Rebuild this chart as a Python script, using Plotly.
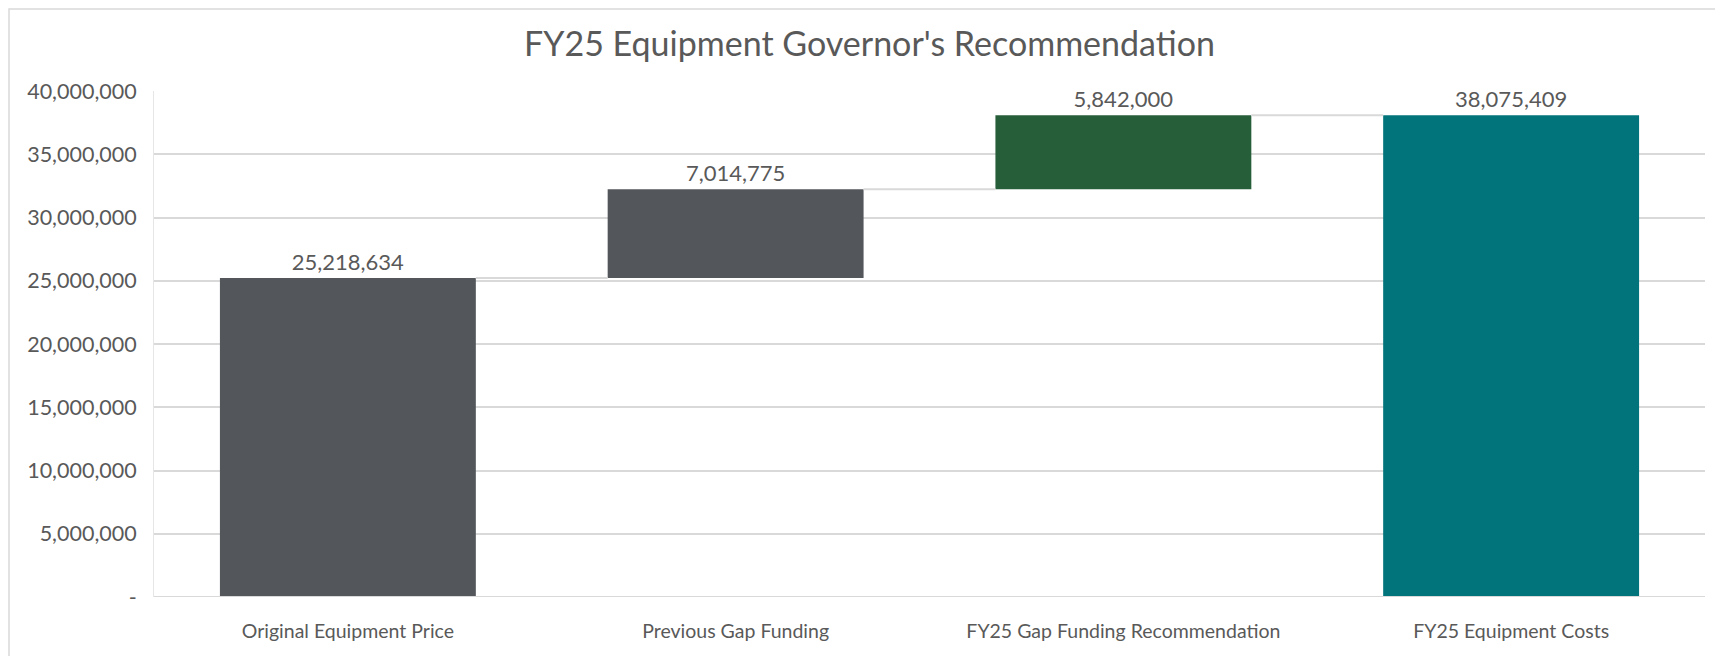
import plotly.graph_objects as go

categories = ["Original Equipment Price", "Previous Gap Funding",
              "FY25 Gap Funding Recommendation", "FY25 Equipment Costs"]
values = [25218634, 7014775, 5842000, 38075409]
measures = ["absolute", "relative", "relative", "total"]
colors = ["#53565A", "#53565A", "#275E3A", "#00747A"]
y_ticks = [0, 5000000, 10000000, 15000000, 20000000, 25000000, 30000000, 35000000, 40000000]
y_ticklabels = ["-", "5,000,000", "10,000,000", "15,000,000", "20,000,000",
                "25,000,000", "30,000,000", "35,000,000", "40,000,000"]

W, H = 1723, 656
ML, MR, MT, MB = 146, 26, 83, 67
FONT = "Lato"
TXT = "#595959"

bases, heights, running = [], [], 0
for v, m in zip(values, measures):
    if m == "absolute":
        bases.append(0); heights.append(v); running = v
    elif m == "relative":
        bases.append(running); heights.append(v); running += v
    else:
        bases.append(0); heights.append(v); running = v

xs = list(range(len(categories)))
bw = 0.66

fig = go.Figure()
# connectors
for i in range(len(xs) - 1):
    level = bases[i] + heights[i]
    fig.add_trace(go.Scatter(x=[xs[i] + bw / 2, xs[i + 1] - bw / 2], y=[level, level],
                             mode="lines", line=dict(color="#D9D9D9", width=2),
                             hoverinfo="skip", showlegend=False))
fig.add_trace(go.Bar(x=xs, y=heights, base=bases, width=bw,
                     marker=dict(color=colors, line=dict(width=0)),
                     text=[f"{v:,}" for v in values], textposition="outside",
                     textfont=dict(family=FONT, size=22, color=TXT),
                     cliponaxis=False, showlegend=False))

fig.update_layout(
    width=W, height=H,
    margin=dict(l=ML, r=MR, t=MT, b=MB),
    paper_bgcolor="white", plot_bgcolor="white",
    title=dict(text="FY25 Equipment Governor's Recommendation", x=0.5, xanchor="center",
               y=1 - 36 / H, yanchor="middle",
               font=dict(family=FONT, size=34, color=TXT)),
    xaxis=dict(range=[-0.5, 3.5], tickvals=xs, ticktext=categories,
               tickfont=dict(family=FONT, size=19.5, color=TXT),
               showgrid=False, zeroline=False, showline=False, ticks="",
               ticklabelstandoff=20),
    yaxis=dict(range=[0, 40000000], tickvals=y_ticks, ticktext=y_ticklabels,
               tickfont=dict(family=FONT, size=21.5, color=TXT),
               showgrid=True, gridcolor="#D9D9D9", gridwidth=2,
               zeroline=False, showline=True, linecolor="#E6E6E6", linewidth=1,
               ticks="", ticklen=0, ticklabelstandoff=12),
    bargap=0.34,
    font=dict(family=FONT, color=TXT),
)
# bottom axis line
fig.add_shape(type="line", xref="paper", yref="y", x0=0, x1=1, y0=0, y1=0,
              line=dict(color="#D9D9D9", width=2), layer="above")
# outer chart border
pw, ph = W - ML - MR, H - MT - MB
fig.add_shape(type="rect", xref="paper", yref="paper",
              x0=(1 - ML) / pw, x1=(W - 14 - ML) / pw,
              y0=-MB / ph, y1=1 + (MT - 1) / ph,
              line=dict(color="#D9D9D9", width=1.5), fillcolor="rgba(0,0,0,0)")

fig.write_html("out.html")
